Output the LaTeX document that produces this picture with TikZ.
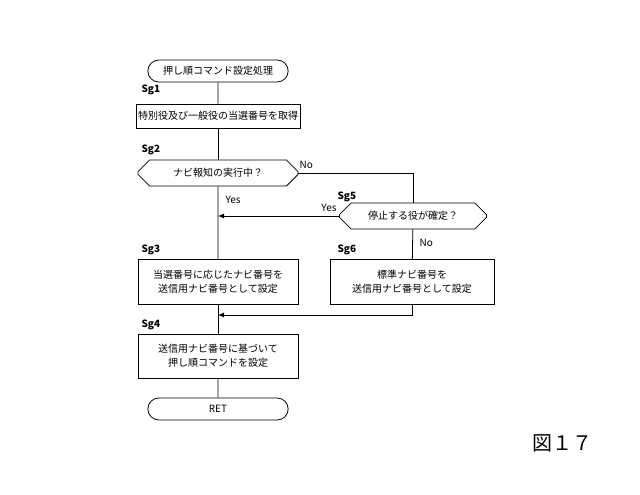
\documentclass[tikz,border=0pt]{standalone}
\usepackage{fontspec}
\setmainfont{Noto Sans CJK JP}
\usetikzlibrary{shapes.misc,arrows.meta}
\begin{document}
\begin{tikzpicture}[x=1pt,y=-1pt,
  box/.style={draw,thick,minimum width=160pt,align=center,font=\fontsize{10}{14}\selectfont,inner sep=2pt},
  term/.style={draw,thick,rounded rectangle,minimum width=147pt,minimum height=22pt,font=\fontsize{10}{12}\selectfont},
  hexa/.style={draw,thick,chamfered rectangle,chamfered rectangle xsep=10pt,minimum height=26pt,font=\fontsize{10}{12}\selectfont},
  lbl/.style={font=\bfseries\fontsize{10}{12}\selectfont,anchor=west},
  yn/.style={font=\fontsize{10}{12}\selectfont},
  line/.style={thick},
  arr/.style={thick,-{Latex[length=6pt,width=5pt]}}]
\useasboundingbox (0,0) rectangle (640,495);
\node[term] (st) at (218,71) {押し順コマンド設定処理};
\node[lbl] at (138,90) {Sg1};
\node[box,minimum height=24pt] (s1) at (218,116) {特別役及び一般役の当選番号を取得};
\node[lbl] at (138,150) {Sg2};
\node[hexa,minimum width=160pt] (s2) at (218,173) {ナビ報知の実行中？};
\node[lbl] at (334,197) {Sg5};
\node[hexa,minimum width=147pt] (s5) at (413,216) {停止する役が確定？};
\node[lbl] at (138,250) {Sg3};
\node[box,minimum height=45pt] (s3) at (218,282) {当選番号に応じたナビ番号を\\送信用ナビ番号として設定};
\node[lbl] at (334,250) {Sg6};
\node[box,minimum width=164pt,minimum height=45pt] (s6) at (412,282) {標準ナビ番号を\\送信用ナビ番号として設定};
\node[lbl] at (138,325) {Sg4};
\node[box,minimum height=44pt] (s4) at (218,356) {送信用ナビ番号に基づいて\\押し順コマンドを設定};
\node[term] (ret) at (218,409) {RET};
\node[font=\fontsize{20}{22}\selectfont] (fig) at (562,443) {図１７};
\coordinate (j1) at (218,216);
\coordinate (j2) at (218,315);
\draw[line] (st) -- (s1);
\draw[line] (s1) -- (s2);
\draw[line] (s2) -- (s3);
\draw[line] (s2.east) -- (413,173) -- (s5.north);
\node[yn,anchor=south west] at (296,172) {No};
\node[yn,anchor=west] at (222,200) {Yes};
\draw[arr] (s5.west) -- (j1);
\node[yn,anchor=south east] at (340,215) {Yes};
\draw[line] (s5) -- (s6);
\node[yn,anchor=west] at (416,243) {No};
\draw[line] (s3) -- (s4);
\draw[arr] (s6.south) -- (412,315) -- (j2);
\draw[line] (s4) -- (ret);
\end{tikzpicture}
\end{document}
